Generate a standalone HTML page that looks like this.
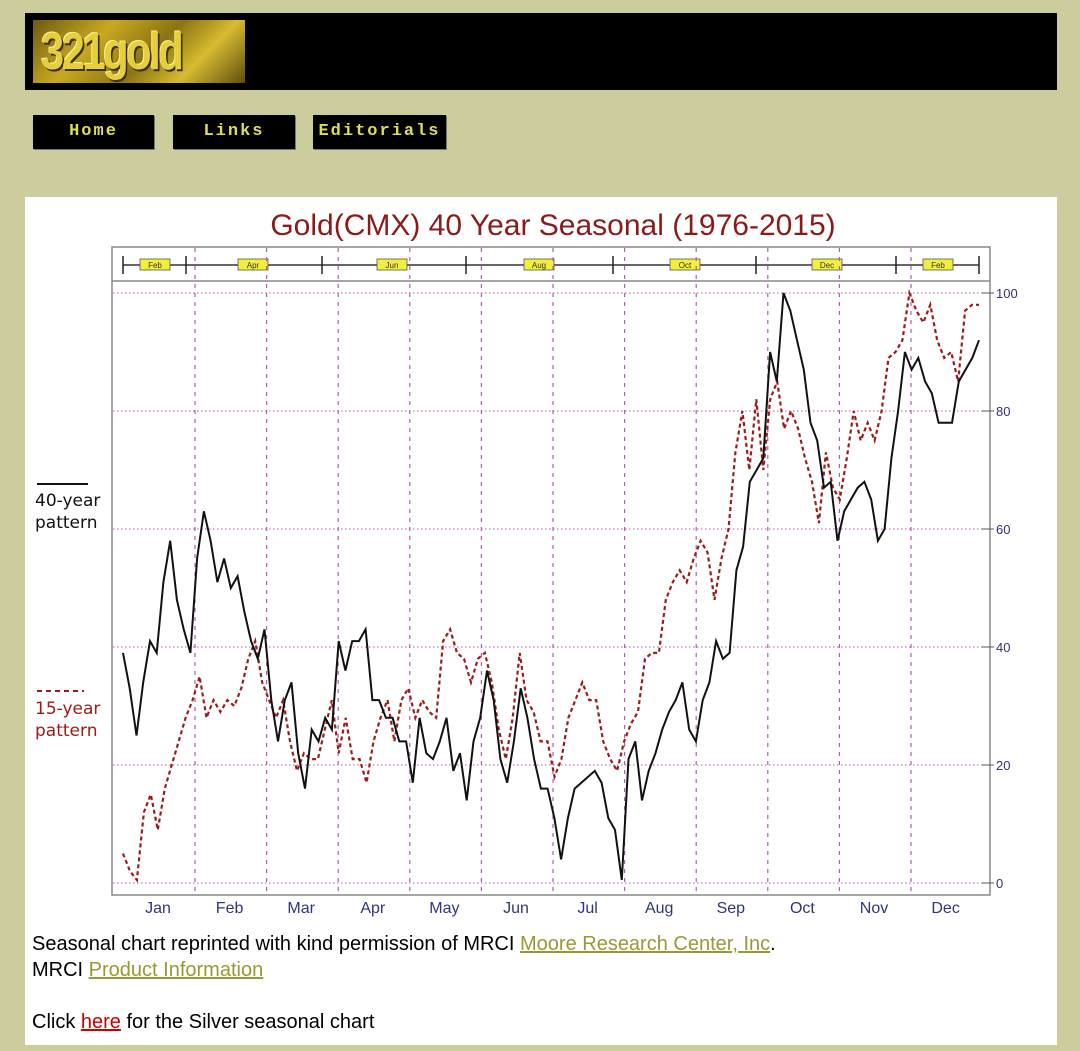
<!DOCTYPE html>
<html>
<head>
<meta charset="utf-8">
<style>
html,body{margin:0;padding:0;}
body{width:1080px;height:1051px;background:#cccc9c;position:relative;overflow:hidden;font-family:"Liberation Sans",sans-serif;}
#header{position:absolute;left:25px;top:13px;width:1032px;height:77px;background:#000;}
#logo{position:absolute;left:8px;top:7px;width:212px;height:63px;background:linear-gradient(135deg,#6b5a10,#c9a820 30%,#8a7412 55%,#d8bb30 75%,#5e4e0c);}
#logo span{position:absolute;left:8px;top:4px;font:bold 52px/56px "Liberation Sans Narrow","Liberation Sans",sans-serif;color:#e6cf3a;letter-spacing:-3px;text-shadow:2px 2px 0 #3a3000,-1px -1px 0 #fff3a0;transform:scaleX(0.8);transform-origin:left;}
.nav{position:absolute;top:115px;height:34px;background:#000;color:#dede55;font:bold 17px/34px "Liberation Mono",monospace;text-align:center;letter-spacing:2px;box-shadow:1px 1px 0 #777;}
#panel{position:absolute;left:25px;top:197px;width:1032px;height:848px;background:#fff;}
.foot{position:absolute;left:32px;font-size:20px;color:#000;white-space:nowrap;}
.foot a{color:#999933;text-decoration:underline;}
.foot a.red{color:#cc0000;}
</style>
</head>
<body>
<div id="header">
  <div id="logo"><span>321gold</span></div>
</div>
<div class="nav" style="left:33px;width:121px;">Home</div>
<div class="nav" style="left:173px;width:122px;">Links</div>
<div class="nav" style="left:313px;width:133px;">Editorials</div>
<div id="panel"></div>
<svg id="chart" width="1080" height="1051" style="position:absolute;left:0;top:0;"></svg>
<div class="foot" style="top:933px;">Seasonal chart reprinted with kind permission of MRCI <a>Moore Research Center, Inc</a>.</div>
<div class="foot" style="top:959px;">MRCI <a>Product Information</a></div>
<div class="foot" style="top:1011px;">Click <a class="red">here</a> for the Silver seasonal chart</div>
<script>
const monthLabels=["Jan","Feb","Mar","Apr","May","Jun","Jul","Aug","Sep","Oct","Nov","Dec"];
const yTicks=[0,20,40,60,80,100];
const bandLabels=["Feb","Apr","Jun","Aug","Oct","Dec","Feb"];
const pattern40Values=[39,33,25,34,41,39,51,58,48,43,39,55,63,58,51,55,50,52,46,41,38,43,31,24,31,34,22,16,26,24,28,26,41,36,41,41,43,31,31,28,28,24,24,17,28,22,21,24,28,19,22,14,24,28,36,31,21,17,24,33,28,21,16,16,11,4,11,16,17,18,19,17,11,9,0.5,21,24,14,19,22,26,29,31,34,26,24,31,34,41,38,39,53,57,68,70,72,90,85,100,97,92,87,78,75,67,68,58,63,65,67,68,65,58,60,72,80,90,87,89,85,83,78,78,78,85,87,89,92];
const pattern15Values=[5,2,0.5,12,15,9,16,20,24,28,31,35,28,31,29,31,30,33,38,41,34,31,28,31,24,19,22,21,21,26,31,22,28,21,21,17,24,28,31,24,31,33,28,31,29,28,41,43,39,38,34,38,39,34,26,21,28,39,31,29,24,24,18,21,28,31,34,31,31,24,21,19,24,27,29,38,39,39,48,51,53,51,55,58,56,48,55,60,73,80,70,82,70,82,85,77,80,77,72,68,61,73,67,65,72,80,75,78,75,80,89,90,92,100,97,95,98,92,89,90,85,97,98,98];

const NS="http://www.w3.org/2000/svg";
const svg=document.getElementById('chart');
const X0=123,X1=979,Y0=883,Y100=293;
function yScale(v){return Y0-(v/100)*(Y0-Y100);}
function xIndex(i,n){return X0+i*(X1-X0)/(n-1);}
const monthW=71.6;
function monthCenter(m){return 158+m*monthW;}
function monthEdge(m){return 195+m*monthW;}
function mk(tag,attrs){const e=document.createElementNS(NS,tag);for(const k in attrs)e.setAttribute(k,attrs[k]);svg.appendChild(e);return e;}

let t=mk('text',{x:553,y:235,'text-anchor':'middle','font-size':30,fill:'#8b1a1a','font-family':'Liberation Sans, sans-serif'});
t.textContent="Gold(CMX) 40 Year Seasonal (1976-2015)";



let fr=mk('rect',{x:112,y:247,width:878,height:648,fill:'none',stroke:'#888','stroke-width':1.5});


let bl=mk('line',{x1:112,y1:281,x2:990,y2:281,stroke:'#888','stroke-width':1.5});



let bline=mk('line',{x1:123,y1:265,x2:979,y2:265,stroke:'#666','stroke-width':2});


[123,186,322,466,613,756,896,979].forEach(function(x){
  const b=mk('line',{x1:x,y1:256,x2:x,y2:274,stroke:'#222','stroke-width':1.5});
  
  
});
const bandX=[155,253,392,539,685,827,938];
bandLabels.forEach(function(l,i){
  const r=mk('rect',{x:bandX[i]-15,y:259,width:30,height:11,fill:'#f2ef3c',stroke:'#555','stroke-width':0.8});
  
  
  const tx=mk('text',{x:bandX[i],y:268,'text-anchor':'middle','font-size':8,fill:'#333'});
  tx.textContent=l;
  
  
});

yTicks.forEach(function(v){
  const g=mk('line',{x1:113,y1:yScale(v),x2:989,y2:yScale(v),stroke:'#b35cb3','stroke-width':1,'stroke-dasharray':'1.5,2.5'});
  
  
  const tk=mk('line',{x1:982,y1:yScale(v),x2:994,y2:yScale(v),stroke:'#555','stroke-width':1});
  
  
  const lb=mk('text',{x:996,y:yScale(v)+5,'font-size':13,fill:'#333366'});
  lb.textContent=v;
  
  
});
for(let m=0;m<11;m++){
  const g=mk('line',{x1:monthEdge(m),y1:248,x2:monthEdge(m),y2:894,stroke:'#b35cb3','stroke-width':1.2,'stroke-dasharray':'4,5'});
  
  
}
monthLabels.forEach(function(l,m){
  const tx=mk('text',{x:monthCenter(m),y:913,'text-anchor':'middle','font-size':16,fill:'#2e3580'});
  tx.textContent=l;
  
  
});

function pathFrom(vals){return vals.map(function(v,i){return (i?'L':'M')+xIndex(i,vals.length).toFixed(1)+','+yScale(v).toFixed(1);}).join('');}
let p15=mk('path',{d:pathFrom(pattern15Values),fill:'none',stroke:'#9b1c1c','stroke-width':2.2,'stroke-dasharray':'4,3'});


let p40=mk('path',{d:pathFrom(pattern40Values),fill:'none',stroke:'#111','stroke-width':2});



let l1=mk('line',{x1:37,y1:484,x2:88,y2:484,stroke:'#111','stroke-width':2});


[['40-year',506,'#111'],['pattern',528,'#111'],['15-year',714,'#a01818'],['pattern',736,'#a01818']].forEach(function(a){
  const tx=mk('text',{x:35,y:a[1],'font-size':17,fill:a[2],'font-family':'DejaVu Sans, sans-serif'});
  tx.textContent=a[0];
  
  
});
let l2=mk('line',{x1:37,y1:691,x2:84,y2:691,stroke:'#a01818','stroke-width':2,'stroke-dasharray':'5,4'});


</script>
</body>
</html>
